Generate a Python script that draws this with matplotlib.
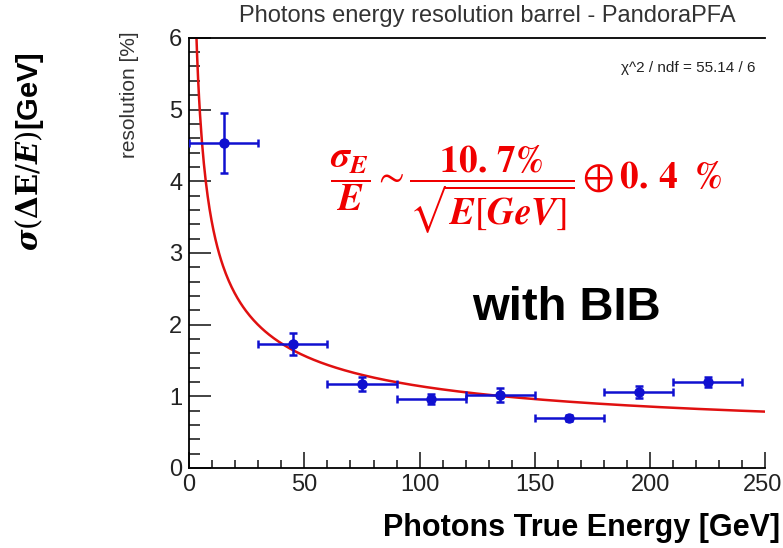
import numpy as np
import matplotlib.pyplot as plt
from matplotlib.ticker import MultipleLocator, FuncFormatter

# Photon energy bins (GeV) and measured resolution (%)
energy = [15, 45, 75, 105, 135, 165, 195, 225]
energy_halfwidth = [15, 15, 15, 15, 15, 15, 15, 15]
resolution = [4.53, 1.73, 1.17, 0.96, 1.02, 0.70, 1.06, 1.20]
resolution_err = [0.42, 0.15, 0.10, 0.07, 0.10, 0.04, 0.08, 0.07]

# Fit parameters: stochastic term (%) and constant term (%)
stoch_term = 10.7
const_term = 0.4

x_max = 250

plt.rcParams['font.family'] = ['Liberation Sans', 'DejaVu Sans']

fig = plt.figure(figsize=(7.83, 5.48), dpi=100)
ax = fig.add_axes([0.2415, 0.146, 0.736, 0.785])

ax.errorbar(energy, resolution, xerr=energy_halfwidth, yerr=resolution_err,
            fmt='o', color='#1010d0', ms=6.5, elinewidth=1.8, capsize=3,
            capthick=1.8, zorder=3)

e_fit = np.linspace(1, x_max, 600)
fit = np.sqrt((stoch_term / np.sqrt(e_fit)) ** 2 + const_term ** 2)
ax.plot(e_fit, fit, color='#e01010', lw=1.8, zorder=2)

ax.set_xlim(0, x_max)
ax.set_ylim(0, 6)
ax.xaxis.set_major_locator(MultipleLocator(50))
ax.xaxis.set_minor_locator(MultipleLocator(10))
ax.yaxis.set_major_locator(MultipleLocator(1))
ax.yaxis.set_minor_locator(MultipleLocator(0.2))
# the label at the right edge is drawn separately so it stays on the canvas
ax.xaxis.set_major_formatter(FuncFormatter(
    lambda v, p: '' if v >= x_max else f'{v:g}'))
ax.tick_params(which='both', direction='in', top=False, right=False,
               labelsize=17, width=1.2, colors='#222222')
ax.tick_params(axis='y', which='major', length=16, pad=5)
ax.tick_params(axis='y', which='minor', length=8)
ax.tick_params(axis='x', which='major', length=11.5, pad=4)
ax.tick_params(axis='x', which='minor', length=6)
ax.spines['right'].set_visible(False)
for s in ['left', 'bottom', 'top']:
    ax.spines[s].set_linewidth(1.3)
ax.annotate(f'{x_max}', xy=(x_max, 0), xycoords='data',
            xytext=(12, -4), textcoords='offset points',
            ha='right', va='top', fontsize=17, color='#222222',
            annotation_clip=False)

fig.text(0.622, 0.970, 'Photons energy resolution barrel - PandoraPFA',
         fontsize=17, color='#333333', ha='center', va='center')
fig.text(0.166, 0.827, 'resolution [%]', rotation=90, fontsize=15,
         color='#333333', ha='center', va='center')
ax.text(0.75, 0.93, 'χ^2 / ndf = 55.14 / 6', transform=ax.transAxes,
        fontsize=11, color='#222222', va='center')

ax.text(0.585, 0.647,
        r'$\dfrac{\mathbfit{\sigma_E}}{\mathbfit{E}} \sim '
        r'\dfrac{\mathbf{10.\,7\%}}{\sqrt{\mathbfit{E}[\mathbfit{GeV}]}}'
        r' \oplus \mathbf{0.\,4\ \ \%}$',
        transform=ax.transAxes, fontsize=27, color='#f00000',
        ha='center', va='center', math_fontfamily='stix')
ax.text(0.654, 0.372, 'with BIB', transform=ax.transAxes, fontsize=34,
        fontweight='bold', ha='center', va='center')

fig.text(0.038, 0.724,
         r'$\mathbfit{\sigma}(\mathbf{\Delta E}/\mathbfit{E})$[GeV]',
         rotation=90, fontsize=21, fontweight='bold', ha='center',
         va='center', math_fontfamily='dejavuserif')
fig.text(0.996, 0.036, 'Photons True Energy [GeV]', fontsize=22,
         fontweight='bold', ha='right', va='center')

fig.savefig('out.png', dpi=100)
